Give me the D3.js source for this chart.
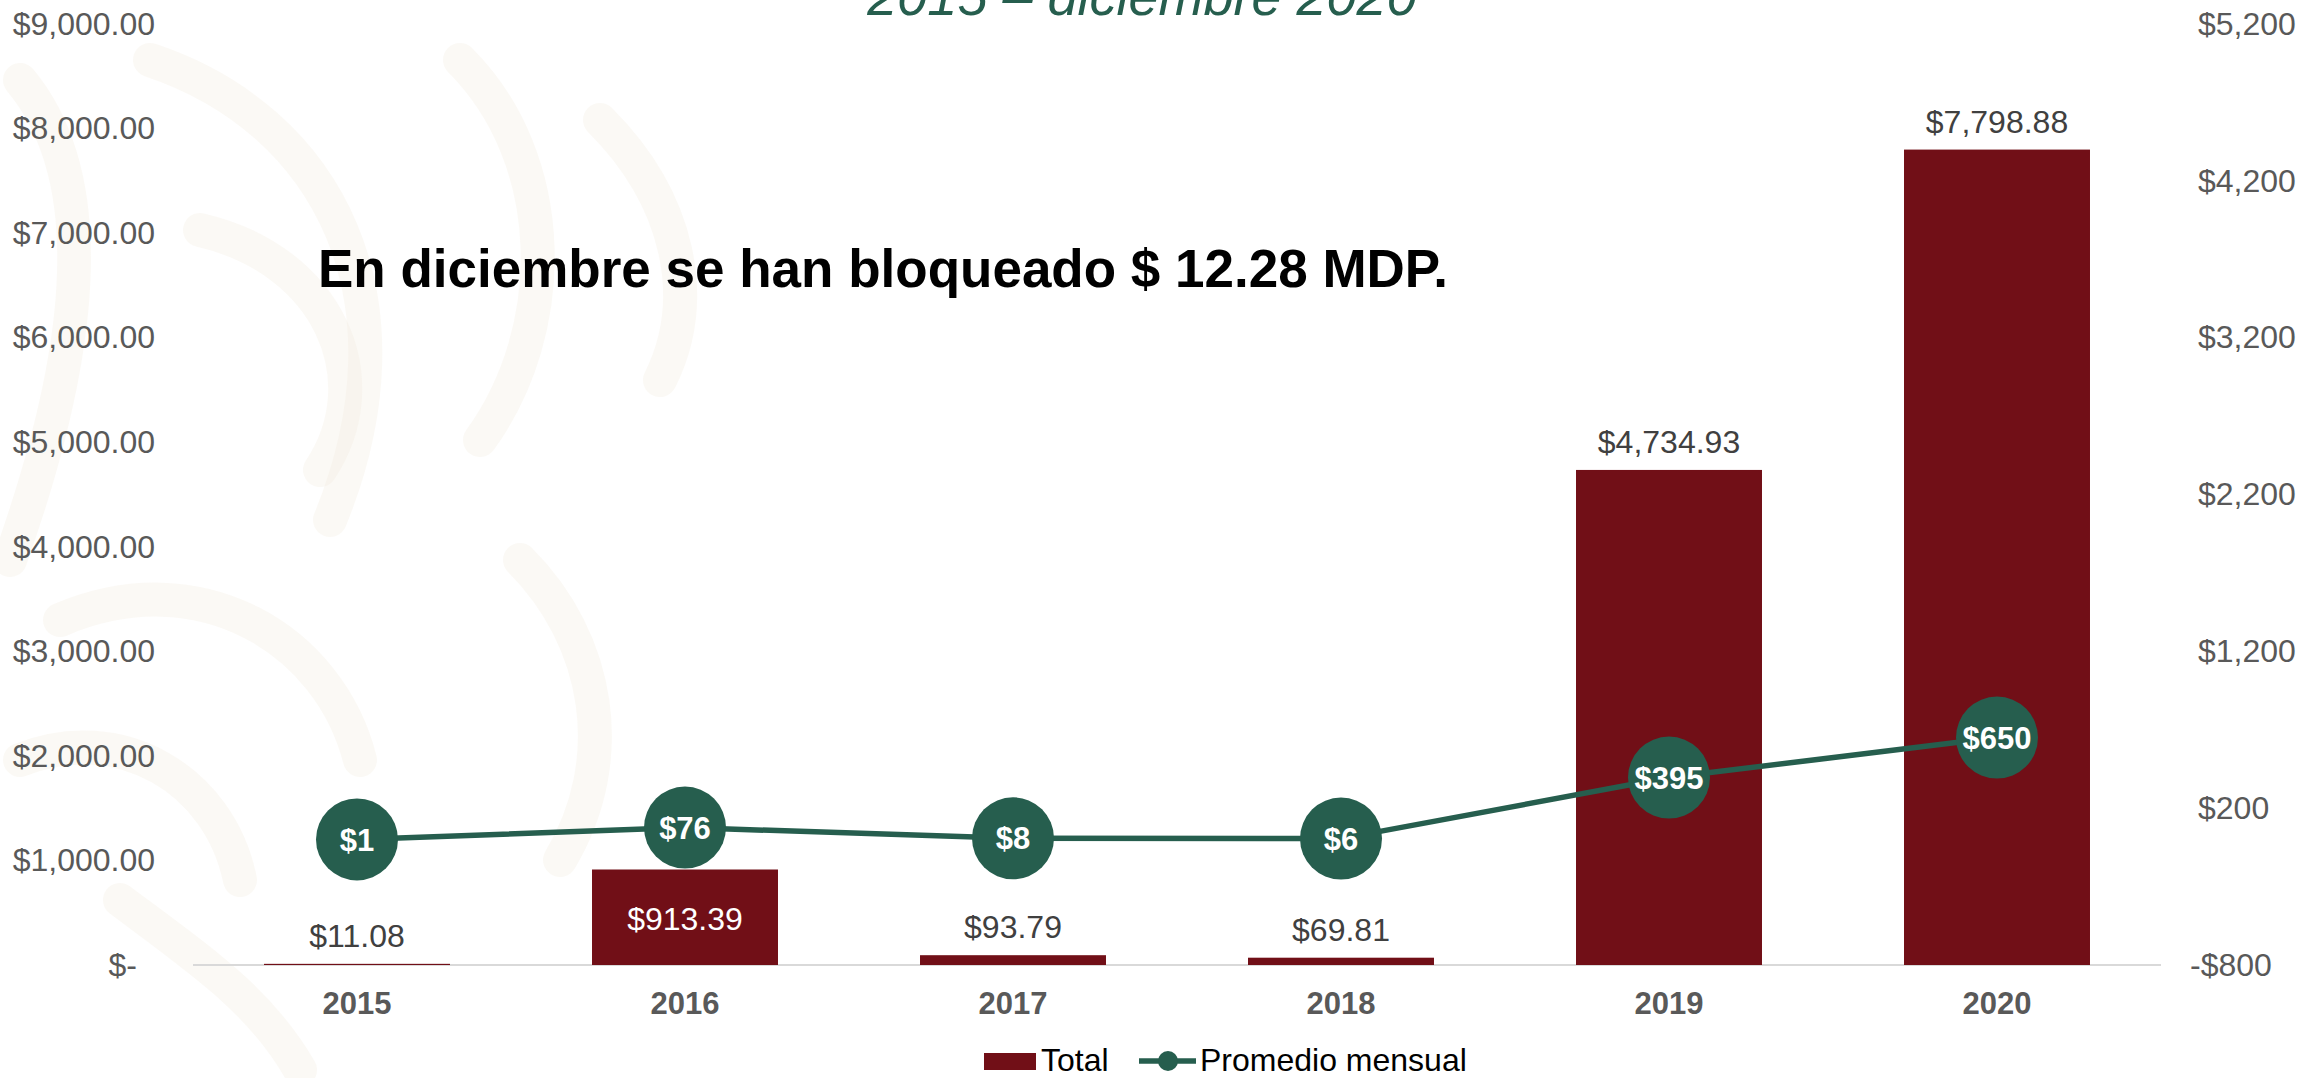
<!DOCTYPE html>
<html>
<head>
<meta charset="utf-8">
<script src="https://cdn.jsdelivr.net/npm/d3@7"></script>
<style>
  html, body { margin: 0; padding: 0; background: #ffffff; }
  svg { display: block; font-family: "Liberation Sans", Arial, Helvetica, sans-serif; }
</style>
</head>
<body>
<svg id="chart" width="2305" height="1078"></svg>
<script>
// ---- data ----
const years = ["2015", "2016", "2017", "2018", "2019", "2020"];
const totals = [11.08, 913.39, 93.79, 69.81, 4734.93, 7798.88];
const monthlyAvg = [1, 76, 8, 6, 395, 650];
const leftTicks = [0, 1000, 2000, 3000, 4000, 5000, 6000, 7000, 8000, 9000];
const rightTicks = [-800, 200, 1200, 2200, 3200, 4200, 5200];
const seriesNames = ["Total", "Promedio mensual"];
const titleText = "2015 – diciembre 2020";
const noteText = "En diciembre se han bloqueado $ 12.28 MDP.";

// ---- styles ----
const barColor = "#710f17";
const lineColor = "#265e4e";
const axisTextColor = "#595959";
const labelColor = "#404040";

const svg = d3.select("#chart");
const plot = { left: 193, right: 2161, top: 24, bottom: 965 };

// ---- faint background ornament ----
const deco = svg.append("g").attr("fill", "none").attr("stroke", "#f1e8da").attr("stroke-linecap", "round");
const arcs = [
  "M 20 80 C 120 200, 60 420, 10 560",
  "M 150 60 C 330 120, 420 300, 330 520",
  "M 200 230 C 330 260, 380 380, 320 470",
  "M 460 60 C 560 160, 560 330, 480 440",
  "M 60 620 C 200 560, 330 640, 360 760",
  "M 20 760 C 120 720, 220 780, 240 880",
  "M 520 560 C 600 640, 620 760, 560 860",
  "M 600 120 C 680 200, 700 300, 660 380",
  "M 120 900 C 200 960, 260 1000, 300 1070"
];
deco.selectAll("path").data(arcs).join("path")
  .attr("d", d => d)
  .attr("stroke-width", 34)
  .attr("opacity", 0.28);

// ---- scales ----
const x = d3.scaleBand().domain(years).range([plot.left, plot.right])
  .paddingInner(0.433).paddingOuter(0.2165);
const yL = d3.scaleLinear().domain([0, 9000]).range([plot.bottom, plot.top]);
const yR = d3.scaleLinear().domain([-800, 5200]).range([plot.bottom, plot.top]);
const cx = d => x(d) + x.bandwidth() / 2;

// ---- left axis ----
const fmtL = v => v === 0 ? "$-" : d3.format("$,.2f")(v);
const axL = svg.append("g").attr("transform", `translate(${plot.left},0)`)
  .call(d3.axisLeft(yL).tickValues(leftTicks).tickFormat(fmtL).tickSize(0).tickPadding(38));
axL.select(".domain").remove();
axL.selectAll("text").attr("fill", axisTextColor).attr("font-size", 32)
  .attr("font-family", "'Liberation Sans', Arial, sans-serif")
  .attr("dx", d => d === 0 ? -18 : 0);

// ---- right axis ----
const fmtR = v => (v < 0 ? "-" : "") + "$" + d3.format(",")(Math.abs(v));
const axR = svg.append("g").attr("transform", `translate(${plot.right},0)`)
  .call(d3.axisRight(yR).tickValues(rightTicks).tickFormat(fmtR).tickSize(0).tickPadding(37));
axR.select(".domain").remove();
axR.selectAll("text").attr("fill", axisTextColor).attr("font-size", 32)
  .attr("font-family", "'Liberation Sans', Arial, sans-serif")
  .attr("dx", d => d < 0 ? -8 : 0);

// ---- baseline ----
svg.append("line").attr("x1", plot.left).attr("x2", plot.right)
  .attr("y1", yL(0)).attr("y2", yL(0))
  .attr("stroke", "#d9d9d9").attr("stroke-width", 2);

// ---- x axis labels ----
const axX = svg.append("g").attr("transform", `translate(0,${plot.bottom})`)
  .call(d3.axisBottom(x).tickSize(0).tickPadding(27));
axX.select(".domain").remove();
axX.selectAll("text").attr("fill", axisTextColor).attr("font-size", 31)
  .attr("font-weight", "bold").attr("font-family", "'Liberation Sans', Arial, sans-serif");

// ---- bars ----
svg.append("g").selectAll("rect").data(totals).join("rect")
  .attr("x", (d, i) => x(years[i]))
  .attr("width", x.bandwidth())
  .attr("y", d => yL(d))
  .attr("height", d => yL(0) - yL(d))
  .attr("fill", barColor);

// ---- line ----
const R = 41;
const line = d3.line().x((d, i) => cx(years[i])).y(d => yR(d));
svg.append("path").datum(monthlyAvg)
  .attr("d", line).attr("fill", "none")
  .attr("stroke", lineColor).attr("stroke-width", 5.5);

// ---- bar labels ----
const fmtBar = d3.format("$,.2f");
svg.append("g").selectAll("text").data(totals).join("text")
  .each(function (d, i) {
    const top = yL(d);
    const circleBottom = yR(monthlyAvg[i]) + R;
    const aboveTop = top - 17 - 23;
    const inside = aboveTop < circleBottom && top - 17 > yR(monthlyAvg[i]) - R;
    d3.select(this)
      .attr("x", cx(years[i]))
      .attr("y", inside ? top + 60 : top - 17)
      .attr("fill", inside ? "#ffffff" : labelColor);
  })
  .attr("text-anchor", "middle")
  .attr("font-size", 32)
  .text(d => fmtBar(d));

// ---- markers ----
const mk = svg.append("g");
mk.selectAll("circle").data(monthlyAvg).join("circle")
  .attr("cx", (d, i) => cx(years[i])).attr("cy", d => yR(d))
  .attr("r", R).attr("fill", lineColor);
mk.selectAll("text").data(monthlyAvg).join("text")
  .attr("x", (d, i) => cx(years[i])).attr("y", d => yR(d))
  .attr("dy", "0.36em").attr("text-anchor", "middle")
  .attr("fill", "#ffffff").attr("font-weight", "bold").attr("font-size", 31)
  .text(d => "$" + d3.format(",")(d));

// ---- title (partially cut at top, as in the reference) ----
svg.append("text").attr("x", 1142).attr("y", 15)
  .attr("text-anchor", "middle").attr("font-style", "italic")
  .attr("font-size", 54).attr("fill", lineColor)
  .text(titleText);

// ---- note ----
svg.append("text").attr("x", 318).attr("y", 287)
  .attr("font-size", 53).attr("font-weight", "bold").attr("fill", "#000000")
  .text(noteText);

// ---- legend ----
const lg = svg.append("g");
lg.append("rect").attr("x", 984).attr("y", 1053).attr("width", 52).attr("height", 17).attr("fill", barColor);
lg.append("text").attr("x", 1041).attr("y", 1071).attr("font-size", 32).attr("fill", "#000")
  .text(seriesNames[0]);
lg.append("line").attr("x1", 1139).attr("x2", 1196).attr("y1", 1061).attr("y2", 1061)
  .attr("stroke", lineColor).attr("stroke-width", 5.5);
lg.append("circle").attr("cx", 1168).attr("cy", 1061).attr("r", 10).attr("fill", lineColor);
lg.append("text").attr("x", 1200).attr("y", 1071).attr("font-size", 32).attr("fill", "#000")
  .text(seriesNames[1]);
</script>
</body>
</html>
